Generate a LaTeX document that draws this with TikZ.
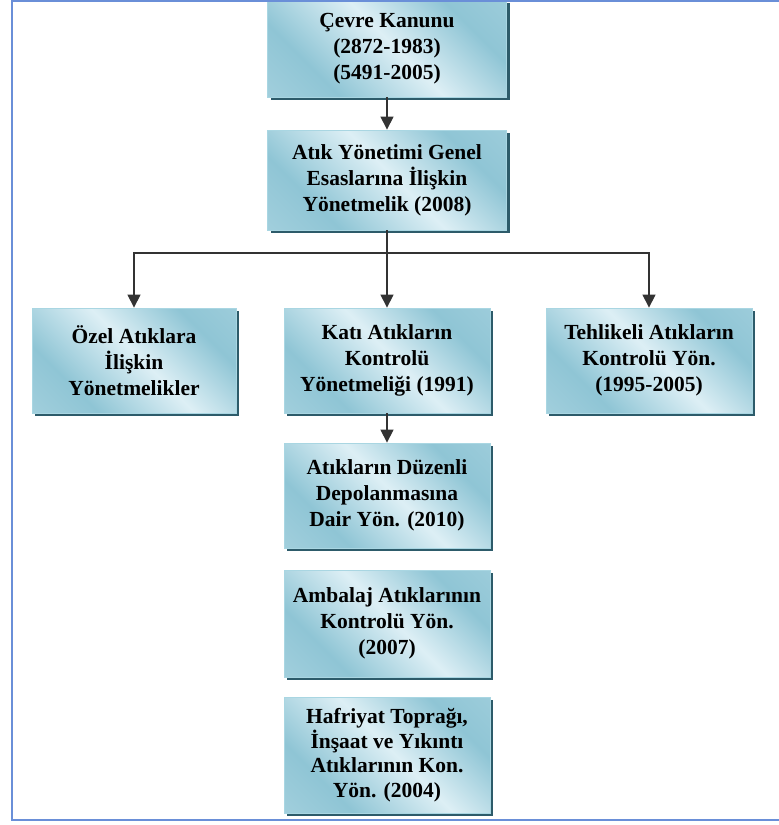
\documentclass[tikz,border=0pt]{standalone}
\usepackage{fontspec}
\setmainfont{Liberation Serif}
\usepackage{tikz}
\usetikzlibrary{shadows,arrows.meta}

\definecolor{boxlight}{HTML}{DDEFF5}
\definecolor{boxdark}{HTML}{8FC5D5}
\definecolor{boxline}{HTML}{A9D6E2}
\definecolor{boxshadow}{HTML}{2D5B6A}
\definecolor{framecol}{HTML}{6A8FD8}

\pgfdeclarehorizontalshading{boxshade}{100bp}{color(0bp)=(boxdark!55!boxlight); color(30bp)=(boxdark); color(52bp)=(boxlight); color(72bp)=(boxdark); color(100bp)=(boxdark!65!boxlight)}

\begin{document}
\begin{tikzpicture}[x=1pt,y=1pt,
    lawbox/.style={draw=boxline, line width=0.8pt, shading=boxshade, shading angle=45,
        drop shadow={shadow xshift=3pt, shadow yshift=-3pt, fill=boxshadow, opacity=1},
        align=center, inner sep=2pt, minimum width=206pt, minimum height=105pt,
        font=\fontsize{21.5}{26}\selectfont\bfseries},
    arr/.style={draw=black!80, line width=1.2pt, -{Triangle[length=13pt,width=13pt]}},
    frame/.style={draw=framecol, line width=2.2pt}]
    \useasboundingbox (0,0) rectangle (779,-825);
    \node[lawbox, minimum width=239pt, minimum height=97pt] (cevre) at (387,-48.5) {Çevre Kanunu\\(2872-1983)\\(5491-2005)};
    \node[lawbox, minimum width=239pt, minimum height=100pt] (atik) at (387,-180) {Atık Yönetimi Genel\\Esaslarına İlişkin\\Yönetmelik (2008)};
    \node[lawbox, minimum width=204pt] (ozel) at (134,-360.5) {Özel Atıklara\\İlişkin\\Yönetmelikler};
    \node[lawbox] (kati) at (387,-360.5) {Katı Atıkların\\Kontrolü\\Yönetmeliği (1991)};
    \node[lawbox] (tehlike) at (649,-360.5) {Tehlikeli Atıkların\\Kontrolü Yön.\\(1995-2005)};
    \node[lawbox] (duzenli) at (387,-495.5) {Atıkların Düzenli\\Depolanmasına\\Dair Yön. (2010)};
    \node[lawbox, minimum height=107pt] (ambalaj) at (387,-623.5) {Ambalaj Atıklarının\\Kontrolü Yön.\\(2007)};
    \node[lawbox, minimum height=116pt, font=\fontsize{21.5}{24.5}\selectfont\bfseries] (hafriyat) at (387,-755) {Hafriyat Toprağı,\\İnşaat ve Yıkıntı\\Atıklarının Kon.\\Yön. (2004)};
    \coordinate (split) at (387,-253);
    \draw[arr] (cevre) -- (atik);
    \draw[arr] (atik) -- (kati);
    \draw[arr] (split) -| (ozel.north);
    \draw[arr] (split) -| (tehlike.north);
    \draw[arr] (kati) -- (duzenli);
    \draw[frame] (779,-1) -- (12,-1) -- (12,-820) -- (779,-820);
\end{tikzpicture}
\end{document}
